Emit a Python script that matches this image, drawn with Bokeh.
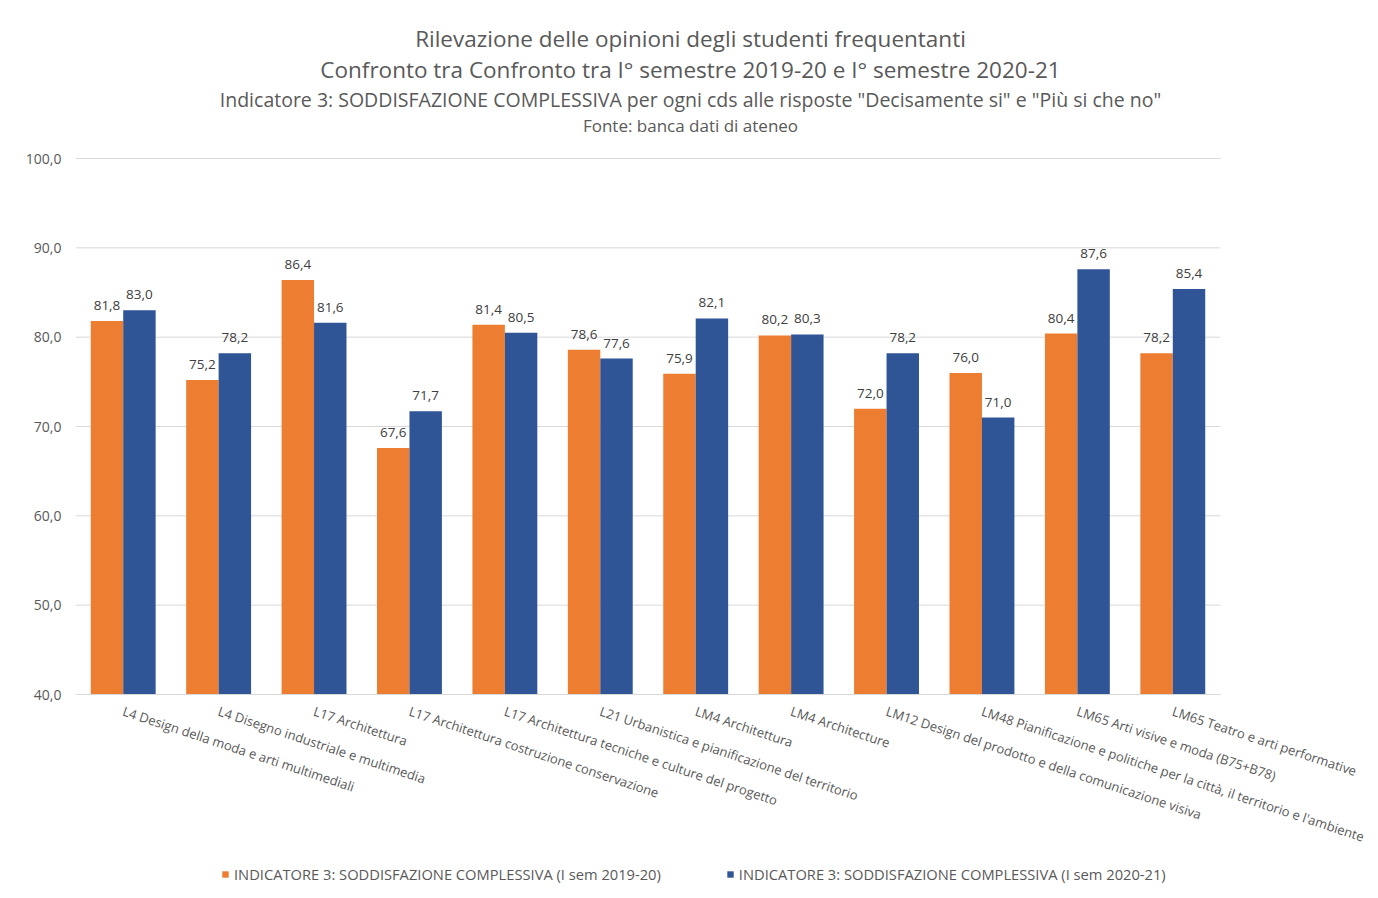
from bokeh.plotting import figure
from bokeh.models import (ColumnDataSource, FixedTicker, Label, Legend, LegendItem, Range1d)
from bokeh.core.properties import value
from bokeh.embed import file_html
from bokeh.resources import INLINE

categories = [
    "L4 Design della moda e arti multimediali",
    "L4 Disegno industriale e multimedia",
    "L17 Architettura",
    "L17 Architettura costruzione conservazione",
    "L17 Architettura tecniche e culture del progetto",
    "L21 Urbanistica e pianificazione del territorio",
    "LM4 Architettura",
    "LM4 Architecture",
    "LM12 Design del prodotto e della comunicazione visiva",
    "LM48 Pianificazione e politiche per la città, il territorio e l'ambiente",
    "LM65 Arti visive e moda (B75+B78)",
    "LM65 Teatro e arti performative",
]
sem_2019_20 = [81.8, 75.2, 86.4, 67.6, 81.4, 78.6, 75.9, 80.2, 72.0, 76.0, 80.4, 78.2]
sem_2020_21 = [83.0, 78.2, 81.6, 71.7, 80.5, 77.6, 82.1, 80.3, 78.2, 71.0, 87.6, 85.4]
series_names = [
    "INDICATORE 3: SODDISFAZIONE COMPLESSIVA (I sem 2019-20)",
    "INDICATORE 3: SODDISFAZIONE COMPLESSIVA (I sem 2020-21)",
]
y_ticks = [40, 50, 60, 70, 80, 90, 100]
titles = [
    "Rilevazione delle opinioni degli studenti frequentanti",
    "Confronto tra Confronto tra I° semestre 2019-20 e I° semestre 2020-21",
    "Indicatore 3: SODDISFAZIONE COMPLESSIVA per ogni cds alle risposte \"Decisamente si\" e \"Più si che no\"",
    "Fonte: banca dati di ateneo",
]

ORANGE = "#ED7D31"
BLUE = "#2F5597"
GRAY = "#595959"
GRID = "#D9D9D9"
FONT = "Open Sans"

# layout (pixels)
W, H = 1370, 890
LEFT = 75
PLOT_LEFT, PLOT_RIGHT = 75, 1220          # pixel columns of the category area
PLOT_TOP, PLOT_BOTTOM = 158, 694          # pixel rows of the 100 and 40 gridlines
BAR_OFFSET, BAR_WIDTH = 0.17, 0.34

n = len(categories)
idx = list(range(n))
Y_MIN, Y_MAX = y_ticks[0], y_ticks[-1]
px_per_unit = (PLOT_BOTTOM - PLOT_TOP) / (Y_MAX - Y_MIN)
px_per_cat = (PLOT_RIGHT - PLOT_LEFT) / n
x_start = -0.5
x_end = n - 0.5 + (W - PLOT_RIGHT) / px_per_cat
y_start = Y_MIN - (H - PLOT_BOTTOM) / px_per_unit
y_end = Y_MAX + PLOT_TOP / px_per_unit

def fmt(v):
    return f"{v:.1f}".replace(".", ",")

src = ColumnDataSource(dict(
    xa=[i - BAR_OFFSET for i in idx],
    xb=[i + BAR_OFFSET for i in idx],
    a=sem_2019_20,
    b=sem_2020_21,
    a_lbl=[fmt(v) for v in sem_2019_20],
    b_lbl=[fmt(v) for v in sem_2020_21],
))
grid_src = ColumnDataSource(dict(
    x0=[x_start] * len(y_ticks), x1=[n - 0.5] * len(y_ticks), y=y_ticks,
))

p = figure(
    frame_width=W - LEFT, frame_height=H,
    x_range=Range1d(x_start, x_end),
    y_range=Range1d(y_start, y_end),
    output_backend="svg", toolbar_location=None,
    min_border_left=LEFT, min_border_right=0, min_border_top=0, min_border_bottom=0,
)
p.outline_line_color = None
p.xgrid.grid_line_color = None
p.ygrid.grid_line_color = None

# horizontal gridlines limited to the category area
p.segment(x0="x0", x1="x1", y0="y", y1="y", source=grid_src,
          line_color=GRID, line_width=1, level="underlay")

r1 = p.vbar(x="xa", top="a", bottom=Y_MIN, width=BAR_WIDTH,
            source=src, fill_color=ORANGE, line_color=None)
r2 = p.vbar(x="xb", top="b", bottom=Y_MIN, width=BAR_WIDTH,
            source=src, fill_color=BLUE, line_color=None)

p.text(x="xa", y="a", text="a_lbl", source=src,
       text_align="center", text_baseline="bottom", y_offset=-11,
       text_font=value(FONT), text_font_size="13.5px", text_color="#404040")
p.text(x="xb", y="b", text="b_lbl", source=src,
       text_align="center", text_baseline="bottom", y_offset=-11,
       text_font=value(FONT), text_font_size="13.5px", text_color="#404040")

# axes
p.yaxis.ticker = FixedTicker(ticks=y_ticks)
p.yaxis.major_label_overrides = {t: fmt(t) for t in y_ticks}
p.yaxis.axis_line_color = None
p.yaxis.major_tick_line_color = None
p.yaxis.minor_tick_line_color = None
p.yaxis.major_tick_out = 0
p.yaxis.major_tick_in = 0
p.yaxis.major_label_text_font = FONT
p.yaxis.major_label_text_font_size = "14px"
p.yaxis.major_label_text_color = GRAY
p.yaxis.major_label_standoff = 14

p.xaxis.fixed_location = Y_MIN
p.xaxis.bounds = (x_start, n - 0.5)
p.xaxis.ticker = FixedTicker(ticks=idx)
p.xaxis.major_label_overrides = {i: c for i, c in zip(idx, categories)}
p.xaxis.axis_line_color = GRID
p.xaxis.major_tick_line_color = None
p.xaxis.minor_tick_line_color = None
p.xaxis.major_tick_out = 0
p.xaxis.major_tick_in = 0
p.xaxis.major_label_orientation = -0.32
p.xaxis.major_label_text_font = FONT
p.xaxis.major_label_text_font_size = "13px"
p.xaxis.major_label_text_color = GRAY
p.xaxis.major_label_standoff = 16

# titles (screen units, measured from the frame's bottom-left = canvas bottom)
title_rows = [38, 69, 99, 125]
title_sizes = ["22.5px", "22.5px", "19.5px", "17px"]
for t, row, s in zip(titles, title_rows, title_sizes):
    p.add_layout(Label(x=690 - LEFT, y=H - row, x_units="screen", y_units="screen", text=t,
                       text_align="center", text_baseline="middle",
                       text_font=FONT, text_font_size=s, text_color=GRAY))

legend = Legend(items=[LegendItem(label=series_names[0], renderers=[r1]),
                       LegendItem(label=series_names[1], renderers=[r2])],
                orientation="horizontal", location=(222 - LEFT - 1, 6),
                glyph_width=8, glyph_height=8, label_standoff=5, spacing=65,
                margin=0, padding=4,
                label_text_font=FONT, label_text_font_size="14.7px", label_text_color=GRAY,
                background_fill_alpha=0, border_line_color=None)
p.add_layout(legend, "center")

open("out.html", "w").write(file_html(p, INLINE))
